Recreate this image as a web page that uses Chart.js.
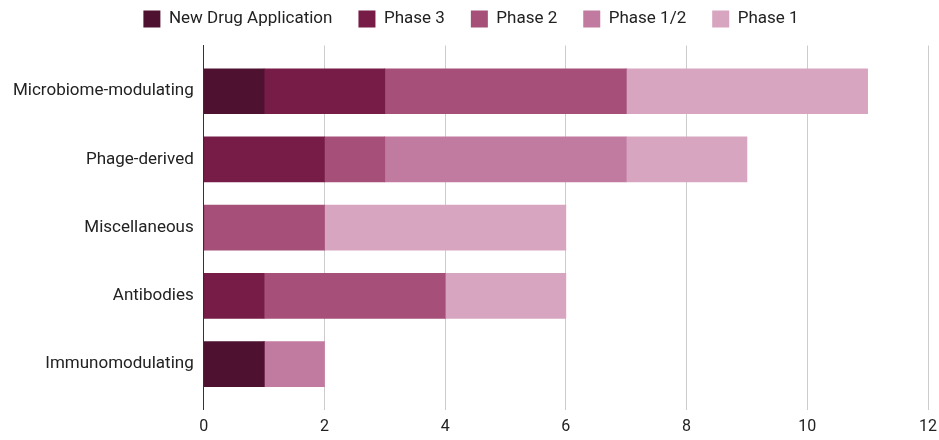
<!DOCTYPE html>
<html>
<head>
<meta charset="utf-8">
<script src="https://cdn.jsdelivr.net/npm/chart.js@4/dist/chart.umd.min.js"></script>
<style>
  html, body { margin: 0; padding: 0; background: #fff; }
  #wrap { width: 939px; height: 440px; position: relative; }
</style>
</head>
<body>
<div id="wrap"><canvas id="chart"></canvas></div>
<script>
const categories = ['Microbiome-modulating', 'Phage-derived', 'Miscellaneous', 'Antibodies', 'Immunomodulating'];
const seriesNames = ['New Drug Application', 'Phase 3', 'Phase 2', 'Phase 1/2', 'Phase 1'];
const ndaValues = [1, 0, 0, 0, 1];
const phase3Values = [2, 2, 0, 1, 0];
const phase2Values = [4, 1, 2, 3, 0];
const phase12Values = [0, 4, 0, 0, 1];
const phase1Values = [4, 2, 4, 2, 0];
const xTicks = [0, 2, 4, 6, 8, 10, 12];

const colors = ['#4e1230', '#761c47', '#a54f79', '#c17ba0', '#d7a5c0'];
const allValues = [ndaValues, phase3Values, phase2Values, phase12Values, phase1Values];

const datasets = seriesNames.map((name, i) => ({
  label: name,
  data: allValues[i],
  backgroundColor: colors[i],
  borderWidth: 0,
  barThickness: 45,
}));

new Chart(document.getElementById('chart'), {
  type: 'bar',
  data: { labels: categories, datasets },
  options: {
    indexAxis: 'y',
    responsive: true,
    maintainAspectRatio: false,
    animation: false,
    layout: { padding: { left: 3, right: 0, top: -15.5, bottom: -5 } },
    plugins: {
      legend: {
        position: 'top',
        labels: {
          boxWidth: 17,
          boxHeight: 17,
          padding: 26,
          color: '#222',
          font: { family: 'Roboto', size: 17 },
        },
      },
      tooltip: { enabled: false },
    },
    scales: {
      x: {
        stacked: true,
        min: 0,
        max: 12,
        afterBuildTicks: (axis) => { axis.ticks = xTicks.map((v) => ({ value: v })); },
        afterFit: (axis) => { axis.paddingRight = 11; },
        grid: { color: '#cccccc', drawTicks: false },
        border: { display: false },
        ticks: { color: '#222', padding: 8, font: { family: 'Roboto', size: 16 } },
      },
      // empty axis used only as a gap between legend and plot
      gap: {
        type: 'linear',
        position: 'top',
        display: true,
        grid: { display: false, drawTicks: false },
        border: { display: false },
        ticks: { display: false },
        afterFit: (axis) => { axis.height = 8; },
      },
      y: {
        stacked: true,
        grid: { display: false, drawTicks: false },
        border: { display: true, color: '#333' },
        ticks: { color: '#222', padding: 10, font: { family: 'Roboto', size: 17 } },
        // extra space above the first and below the last category band
        afterUpdate: (axis) => {
          axis._startValue = -0.67;
          axis._valueRange = categories.length + 0.34;
        },
      },
    },
  },
});
</script>
</body>
</html>
